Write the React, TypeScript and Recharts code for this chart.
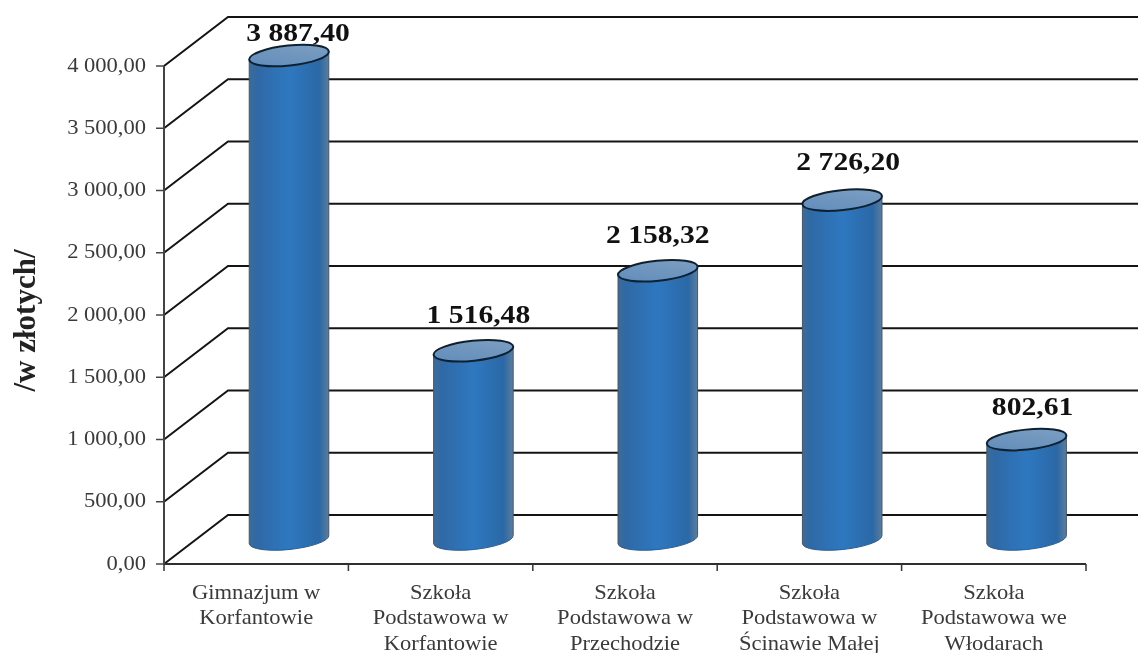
import React from 'react';
import { BarChart, Bar, XAxis, YAxis, CartesianGrid, LabelList } from 'recharts';

const categories = ['Gimnazjum w Korfantowie', 'Szkoła Podstawowa w Korfantowie', 'Szkoła Podstawowa w Przechodzie', 'Szkoła Podstawowa w Ścinawie Małej', 'Szkoła Podstawowa we Włodarach'];
const categoryLines = [
  ['Gimnazjum w', 'Korfantowie'],
  ['Szkoła', 'Podstawowa w', 'Korfantowie'],
  ['Szkoła', 'Podstawowa w', 'Przechodzie'],
  ['Szkoła', 'Podstawowa w', 'Ścinawie Małej'],
  ['Szkoła', 'Podstawowa we', 'Włodarach'],
];
const values = [3887.4, 1516.48, 2158.32, 2726.2, 802.61];
const valueLabels = ['3 887,40', '1 516,48', '2 158,32', '2 726,20', '802,61'];
const yTicks = [0, 500, 1000, 1500, 2000, 2500, 3000, 3500, 4000];
const yTickLabels = ['0,00', '500,00', '1 000,00', '1 500,00', '2 000,00', '2 500,00', '3 000,00', '3 500,00', '4 000,00'];

const rows = categories.map((name, i) => ({ name, value: values[i] }));

const DEPTH_X = 64;
const DEPTH_Y = 49;
const SHIFT_X = 33;
const SHIFT_Y = 24.5;
const RY = 10;
const TILT = 6;
const labelNudge = [[9, -23], [5, -37], [0, -37], [6, -39], [6, -33]];
const STRETCH = 1.14;
const TICK_STRETCH = 1.1;

function WallLine(props: any) {
  const { x1, y1, x2 } = props;
  const bx = x1 + DEPTH_X;
  const by = y1 - DEPTH_Y;
  return (
    <path
      key={props.key}
      d={`M${x1},${y1} L${bx},${by} L${x2 + 60},${by}`}
      fill="none"
      stroke="#141414"
      strokeWidth={2}
    />
  );
}

function Cylinder(props: any) {
  const { x, y, width, height, index } = props;
  const rx = width / 2;
  const cx = x + rx + SHIFT_X;
  const top = y - SHIFT_Y;
  const bottom = y + height - SHIFT_Y;
  const a = (TILT * Math.PI) / 180;
  const dx = rx * Math.cos(a);
  const dy = rx * Math.sin(a);
  const id = `cyl${index}`;
  return (
    <g>
      <defs>
        <linearGradient id={`${id}b`} x1="0" y1="0" x2="1" y2="0">
          <stop offset="0" stopColor="#3f6b96" />
          <stop offset="0.1" stopColor="#2f69a6" />
          <stop offset="0.5" stopColor="#2e78c0" />
          <stop offset="0.88" stopColor="#2b68a6" />
          <stop offset="1" stopColor="#5c7d9c" />
        </linearGradient>
        <linearGradient id={`${id}t`} x1="0" y1="1" x2="1" y2="0">
          <stop offset="0" stopColor="#5f8bb9" />
          <stop offset="1" stopColor="#7fa0c3" />
        </linearGradient>
      </defs>
      <path
        d={`M${cx - dx},${top + dy} L${cx - dx},${bottom + dy} A${rx},${RY} ${-TILT} 0 0 ${cx + dx},${bottom - dy} L${cx + dx},${top - dy} Z`}
        fill={`url(#${id}b)`}
        stroke="#44566a"
        strokeWidth={1}
      />
      <ellipse
        cx={cx}
        cy={top}
        rx={rx}
        ry={RY}
        transform={`rotate(${-TILT} ${cx} ${top})`}
        fill={`url(#${id}t)`}
        stroke="#0a2238"
        strokeWidth={2}
      />
    </g>
  );
}

function ValueLabel(props: any) {
  const { x, y, width, index } = props;
  const [nx, ny] = labelNudge[index];
  const cx = x + width / 2 + SHIFT_X + nx;
  const cy = y - SHIFT_Y + ny;
  return (
    <text
      transform={`translate(${cx} ${cy}) scale(${STRETCH} 1)`}
      textAnchor="middle"
      dominantBaseline="central"
      fontFamily="'Liberation Serif'"
      fontWeight={700}
      fontSize={26}
      fill="#111"
    >
      {valueLabels[index]}
    </text>
  );
}

function CategoryTick(props: any) {
  const { x, y, index, width } = props;
  const half = width / categories.length / 2;
  const axisY = y - 8;
  return (
    <g>
      <path d={`M${x - half},${axisY} v7`} stroke="#333" strokeWidth={1.5} />
      {index === categories.length - 1 && <path d={`M${x + half},${axisY} v7`} stroke="#333" strokeWidth={1.5} />}
      {categoryLines[index].map((line, i) => (
        <text
          key={line}
          transform={`translate(${x} ${axisY + 28 + i * 25.5}) scale(${TICK_STRETCH} 1)`}
          textAnchor="middle"
          dominantBaseline="central"
          fontFamily="'Liberation Serif'"
          fontSize={20.5}
          fill="#3a3a3a"
        >
          {line}
        </text>
      ))}
    </g>
  );
}

function ValueTick(props: any) {
  const { x, y, index } = props;
  return (
    <text
      transform={`translate(${x - 8} ${y - 1}) scale(${TICK_STRETCH} 1)`}
      textAnchor="end"
      dominantBaseline="central"
      fontFamily="'Liberation Serif'"
      fontSize={20.5}
      fill="#3a3a3a"
    >
      {yTickLabels[index]}
    </text>
  );
}

function YTitle(props: any) {
  const { viewBox } = props;
  const cy = viewBox.y + viewBox.height / 2 + 5.5;
  return (
    <text
      transform={`translate(35 ${cy}) rotate(-90)`}
      textAnchor="middle"
      fontFamily="'Liberation Serif'"
      fontWeight={700}
      fontSize={31}
      fill="#222"
    >
      /w złotych/
    </text>
  );
}

export default function App() {
  return (
    <div style={{ position: 'absolute', left: 0, top: 0, width: 1138, height: 653, background: '#fff', overflow: 'hidden', filter: 'blur(0.4px)' }}>
      <BarChart
        width={1138}
        height={653}
        data={rows}
        margin={{ top: 66, right: 52, bottom: 0, left: 0 }}
        barSize={80}
      >
        <CartesianGrid vertical={false} horizontal={(p: any) => <WallLine {...p} />} horizontalValues={yTicks} />
        <XAxis
          dataKey="name"
          height={89}
          interval={0}
          tickLine={false}
          axisLine={{ stroke: '#2e2e2e', strokeWidth: 2 }}
          tick={(p: any) => <CategoryTick {...p} />}
        />
        <YAxis
          width={164}
          domain={[0, 4000]}
          ticks={yTicks}
          interval={0}
          tickSize={8}
          tickLine={{ stroke: '#444', strokeWidth: 1.5 }}
          axisLine={{ stroke: '#444', strokeWidth: 2 }}
          tick={(p: any) => <ValueTick {...p} />}
          label={(p: any) => <YTitle {...p} />}
        />
        <Bar dataKey="value" isAnimationActive={false} shape={(p: any) => <Cylinder {...p} />}>
          <LabelList dataKey="value" content={(p: any) => <ValueLabel {...p} />} />
        </Bar>
      </BarChart>
    </div>
  );
}
